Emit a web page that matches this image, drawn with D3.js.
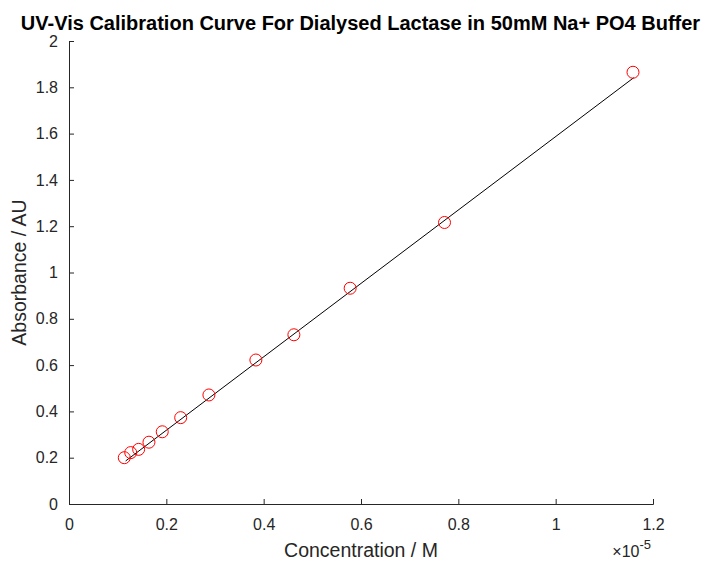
<!DOCTYPE html>
<html>
<head>
<meta charset="utf-8">
<script src="https://cdn.jsdelivr.net/npm/d3@7"></script>
<style>
  body { margin: 0; background: #fff; }
  text { font-family: "Liberation Sans", Arial, sans-serif; }
</style>
</head>
<body>
<script>
const width = 707;
const height = 562;

// concentration in units of 1e-5 M
var conc = [0.1136, 0.1268, 0.1431, 0.1643, 0.1916, 0.2295, 0.2875, 0.384, 0.4621, 0.5777, 0.7716, 1.1589];
var absorb = [0.200, 0.222, 0.236, 0.267, 0.312, 0.373, 0.471, 0.622, 0.731, 0.932, 1.216, 1.865];
// fitted line ends
var fitX = [0.1164, 1.1604];
var fitY = [0.186, 1.8415];
var xTicks = [0, 0.2, 0.4, 0.6, 0.8, 1, 1.2];
var yTicks = [0, 0.2, 0.4, 0.6, 0.8, 1, 1.2, 1.4, 1.6, 1.8, 2];

const plotLeft = 69, plotRight = 653, plotTop = 41, plotBottom = 504;
const axisColor = "#262626";

var svg = d3.select("body").append("svg")
  .attr("width", width)
  .attr("height", height);

var x = d3.scaleLinear().domain([0, 1.2]).range([plotLeft, plotRight]);
var y = d3.scaleLinear().domain([0, 2]).range([plotBottom, plotTop]);

// axes, ticks pointing inward
var gx = svg.append("g")
  .attr("transform", "translate(0," + plotBottom + ")")
  .call(d3.axisBottom(x).tickValues(xTicks).tickSize(-5)
    .tickFormat(d3.format("~g")));
var gy = svg.append("g")
  .attr("transform", "translate(" + plotLeft + ",0)")
  .call(d3.axisLeft(y).tickValues(yTicks).tickSize(-5).tickPadding(10)
    .tickFormat(d3.format("~g")));

[gx, gy].forEach(function(g) {
  g.select(".domain").attr("stroke", axisColor).attr("stroke-width", 1);
  g.selectAll(".tick line").attr("stroke", axisColor);
  g.selectAll(".tick text")
    .attr("fill", axisColor)
    .style("font-size", "16px")
    .style("font-family", "'Liberation Sans', Arial, sans-serif");
});
gx.selectAll(".tick text").attr("y", 26).attr("dy", null);
gy.selectAll(".tick text").attr("x", -11);

// fit line
var line = d3.line()
  .x(function(d) { return x(d[0]); })
  .y(function(d) { return y(d[1]); });
svg.append("path")
  .datum(d3.zip(fitX, fitY))
  .attr("d", line)
  .attr("fill", "none")
  .attr("stroke", "#000")
  .attr("stroke-width", 1);

// data points
svg.selectAll("circle.pt")
  .data(d3.zip(conc, absorb))
  .enter().append("circle")
  .attr("class", "pt")
  .attr("cx", function(d) { return x(d[0]); })
  .attr("cy", function(d) { return y(d[1]); })
  .attr("r", 6)
  .attr("fill", "none")
  .attr("stroke", "#ff0000")
  .attr("stroke-width", 1);

// title
svg.append("text")
  .attr("x", 360.5)
  .attr("y", 29.5)
  .attr("text-anchor", "middle")
  .style("font-size", "20px")
  .style("font-weight", "bold")
  .attr("fill", "#000")
  .text("UV-Vis Calibration Curve For Dialysed Lactase in 50mM Na+ PO4 Buffer");

// axis labels
svg.append("text")
  .attr("x", (plotLeft + plotRight) / 2)
  .attr("y", 557)
  .attr("text-anchor", "middle")
  .style("font-size", "19.5px")
  .attr("fill", axisColor)
  .text("Concentration / M");

svg.append("text")
  .attr("transform", "translate(26," + (plotTop + plotBottom) / 2 + ") rotate(-90)")
  .attr("text-anchor", "middle")
  .style("font-size", "19.5px")
  .attr("fill", axisColor)
  .text("Absorbance / AU");

// exponent label
var ex = svg.append("text")
  .attr("x", 651)
  .attr("y", 557)
  .attr("text-anchor", "end")
  .style("font-size", "16px")
  .attr("fill", axisColor);
ex.append("tspan").text("\u00d7").style("font-size", "16px");
ex.append("tspan").text("10");
ex.append("tspan").text("-5").attr("dy", -8).style("font-size", "13px");
</script>
</body>
</html>
